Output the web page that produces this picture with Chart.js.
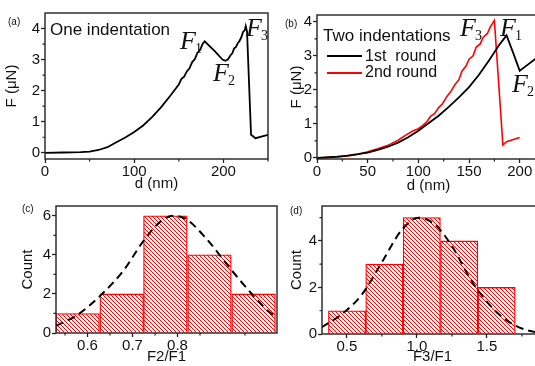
<!DOCTYPE html>
<html>
<head>
<meta charset="utf-8">
<script src="https://cdn.jsdelivr.net/npm/chart.js@4.4.1/dist/chart.umd.min.js"></script>
<style>
html, body { margin: 0; padding: 0; background: #fff; }
body { width: 535px; height: 366px; overflow: hidden; position: relative; font-family: "Liberation Sans", Arial, sans-serif; color: #111; }
canvas { position: absolute; }
.tag { position: absolute; font-size: 10px; line-height: 1; }
.txt { position: absolute; line-height: 1; white-space: nowrap; }
.fl { position: absolute; font-family: "Liberation Serif", "Times New Roman", serif; font-style: italic; font-size: 26px; line-height: 1; white-space: nowrap; }
.fl sub { font-size: 14px; font-style: normal; vertical-align: baseline; position: relative; top: 4px; margin-left: -1px; }
.swatch { position: absolute; height: 2px; width: 35px; }
</style>
</head>
<body>
<canvas id="pa" width="272" height="196" style="left:0;top:0"></canvas>
<canvas id="pb" width="272" height="196" style="left:272px;top:0"></canvas>
<canvas id="pc" width="280" height="170" style="left:0;top:196px"></canvas>
<canvas id="pd" width="266" height="170" style="left:280px;top:196px"></canvas>

<div class="tag" style="left:8px;top:17px">(a)</div>
<div class="tag" style="left:285px;top:19px">(b)</div>
<div class="tag" style="left:22px;top:204px">(c)</div>
<div class="tag" style="left:290px;top:206px">(d)</div>

<div class="txt" style="left:50px;top:21px;font-size:17px">One indentation</div>
<div class="fl" style="left:180px;top:28px">F<sub>1</sub></div>
<div class="fl" style="left:213px;top:60px">F<sub>2</sub></div>
<div class="fl" style="left:246px;top:15px">F<sub>3</sub></div>

<div class="txt" style="left:323px;top:27px;font-size:17px">Two indentations</div>
<div class="swatch" style="left:327px;top:55px;background:#000"></div>
<div class="txt" style="left:365px;top:48px;font-size:16px">1st&nbsp; round</div>
<div class="swatch" style="left:327px;top:72px;background:#ff0000"></div>
<div class="txt" style="left:365px;top:64px;font-size:16px">2nd round</div>
<div class="fl" style="left:460px;top:15px">F<sub>3</sub></div>
<div class="fl" style="left:500px;top:15px">F<sub>1</sub></div>
<div class="fl" style="left:512px;top:71px">F<sub>2</sub></div>

<script>
// ===== Data =====
// (a) one indentation: depth (nm) vs force (uN)
const aDepth = [0, 20, 40, 50, 60, 70, 80, 90, 100, 110, 120, 130, 140, 150, 153, 156, 159, 162, 165, 168, 171, 174, 177, 179,
  190, 199, 202, 205, 208, 210, 212, 214, 216, 218, 220, 222, 224, 225, 226.5, 231, 236, 250];
const aForce = [0, 0.01, 0.02, 0.04, 0.09, 0.18, 0.34, 0.49, 0.67, 0.88, 1.15, 1.46, 1.82, 2.2, 2.38, 2.45, 2.62, 2.72, 2.92, 3.02, 3.22, 3.32, 3.52, 3.59,
  3.28, 3.0, 2.96, 3.0, 3.14, 3.2, 3.36, 3.4, 3.52, 3.6, 3.71, 3.89, 3.95, 4.08, 3.9, 0.58, 0.47, 0.58];

// (b) two indentations
const b1Depth = [0, 20, 30, 40, 50, 60, 70, 80, 90, 100, 110, 120, 130, 140, 150, 160, 170, 180, 187, 194, 200, 207, 214, 220];
const b1Force = [0, 0.04, 0.07, 0.11, 0.16, 0.24, 0.33, 0.45, 0.61, 0.8, 1.02, 1.24, 1.5, 1.78, 2.08, 2.45, 2.88, 3.33, 3.6, 3.05, 2.56, 2.72, 2.88, 3.02];
const b2Depth = [0, 20, 30, 40, 50, 60, 70, 80, 88, 95, 100, 104, 108, 112, 116, 120, 124, 128, 132, 136, 140, 143, 147, 150,
  154, 157, 161, 164, 168, 171, 175, 183.4, 187, 200];
const b2Force = [0, 0.03, 0.06, 0.1, 0.18, 0.27, 0.37, 0.52, 0.68, 0.8, 0.86, 0.95, 1.05, 1.22, 1.3, 1.48, 1.6, 1.8, 1.95, 2.15, 2.3, 2.55, 2.7, 2.9,
  3.0, 3.25, 3.35, 3.55, 3.65, 3.85, 4.04, 0.38, 0.48, 0.6];

// (c) F2/F1 histogram + gaussian fit
const cBins = [0.578, 0.676, 0.773, 0.871, 0.969];
const cCounts = [1, 2, 6, 4, 2];
const cFitX = [0.53, 0.576, 0.628, 0.68, 0.724, 0.762, 0.791, 0.821, 0.865, 0.917, 0.969, 1.004, 1.03];
const cFitY = [0.37, 0.9, 1.9, 3.2, 4.7, 5.7, 6.0, 5.8, 4.8, 3.3, 1.9, 1.07, 0.7];

// (d) F3/F1 histogram + gaussian fit
const dBins = [0.502, 0.768, 1.035, 1.302, 1.569];
const dCounts = [1, 3, 5, 4, 2];
const dFitX = [0.321, 0.464, 0.607, 0.75, 0.893, 1.012, 1.131, 1.25, 1.393, 1.56, 1.703, 1.846, 1.9];
const dFitY = [0.29, 0.85, 1.69, 3.08, 4.48, 5.0, 4.69, 3.78, 2.25, 0.99, 0.36, 0.08, 0.05];

// tick labels (major) and minor tick marks
const aXTicks = [0, 100, 200], aXMinor = [50, 150, 250];
const aYTicks = [0, 1, 2, 3, 4], aYMinor = [0.5, 1.5, 2.5, 3.5];
const bXTicks = [0, 50, 100, 150, 200], bXMinor = [25, 75, 125, 175];
const bYTicks = [0, 1, 2, 3, 4], bYMinor = [0.5, 1.5, 2.5, 3.5];
const cXTicks = [0.6, 0.7, 0.8], cXMinor = [0.55, 0.65, 0.75, 0.85, 0.95];
const cYTicks = [0, 2, 4, 6], cYMinor = [1, 3, 5];
const dXTicks = [0.5, 1.0, 1.5], dXMinor = [0.75, 1.25, 1.75];
const dYTicks = [0, 2, 4], dYMinor = [1, 3, 5];

// ===== Chart setup =====
Chart.defaults.font.family = '"Liberation Sans", Arial, sans-serif';
Chart.defaults.font.size = 15;
Chart.defaults.color = '#111';
Chart.defaults.animation = false;
Chart.defaults.events = [];
Chart.defaults.plugins.legend.display = false;
Chart.defaults.plugins.tooltip.enabled = false;

// box around the plot + short minor ticks
const frame = {
  id: 'frame',
  afterDraw(chart, args, opts) {
    const { ctx, chartArea: a, scales: { x, y } } = chart;
    ctx.save();
    ctx.strokeStyle = '#222';
    ctx.lineWidth = 1.4;
    ctx.strokeRect(a.left, a.top, a.right - a.left, a.bottom - a.top);
    ctx.lineWidth = 1.2;
    ctx.beginPath();
    (opts.xMinor || []).forEach(v => {
      const px = x.getPixelForValue(v);
      ctx.moveTo(px, a.bottom); ctx.lineTo(px, a.bottom + 2.5);
    });
    (opts.yMinor || []).forEach(v => {
      const py = y.getPixelForValue(v);
      ctx.moveTo(a.left, py); ctx.lineTo(a.left - 2.5, py);
    });
    ctx.stroke();
    ctx.restore();
  }
};
Chart.register(frame);

function axis(o) {
  return {
    type: 'linear',
    min: o.min,
    max: o.max,
    offset: false,
    grid: { drawOnChartArea: false, drawTicks: true, tickLength: 4, tickColor: '#222', tickWidth: 1.3, offset: false },
    border: { display: false },
    ticks: { padding: o.pad, autoSkip: false, maxRotation: 0, font: { size: o.size || 15 }, callback: o.fmt },
    afterBuildTicks: s => { s.ticks = o.major.map(v => ({ value: v })); },
    afterFit: s => {
      if (o.w != null) s.width = o.w;
      if (o.h != null) s.height = o.h;
    },
    title: { display: true, text: o.title, font: { size: 15 }, padding: o.tpad }
  };
}

const intFmt = v => String(v);
const decFmt = v => v.toFixed(1);

function hatch(color) {
  const c = document.createElement('canvas');
  c.width = 4; c.height = 4;
  const g = c.getContext('2d');
  g.fillStyle = '#fff';
  g.fillRect(0, 0, 4, 4);
  g.strokeStyle = color;
  g.lineWidth = 1;
  g.beginPath();
  g.moveTo(0, 0); g.lineTo(4, 4);
  g.moveTo(-1, 3); g.lineTo(1, 5);
  g.moveTo(3, -1); g.lineTo(5, 1);
  g.stroke();
  return g.createPattern(c, 'repeat');
}

const pts = (xs, ys) => xs.map((x, i) => ({ x, y: ys[i] }));

// ===== (a) =====
new Chart(document.getElementById('pa'), {
  type: 'line',
  data: { datasets: [{ data: pts(aDepth, aForce), borderColor: '#000', borderWidth: 1.8, pointRadius: 0, tension: 0 }] },
  options: {
    responsive: false,
    layout: { padding: { top: 13, right: 4, bottom: 0, left: 0 } },
    scales: {
      x: axis({ min: 0, max: 250, major: aXTicks, fmt: intFmt, pad: 0, h: 37, title: 'd (nm)', tpad: { top: 0, bottom: 3 } }),
      y: axis({ min: -0.2, max: 4.5, major: aYTicks, fmt: intFmt, pad: 1, w: 45, title: 'F (\u03bcN)', tpad: { top: 3, bottom: 0 } })
    },
    plugins: { frame: { xMinor: aXMinor, yMinor: aYMinor } }
  }
});

// ===== (b) =====
new Chart(document.getElementById('pb'), {
  type: 'line',
  data: { datasets: [
    { data: pts(b1Depth, b1Force), borderColor: '#000', borderWidth: 1.8, pointRadius: 0, tension: 0 },
    { data: pts(b2Depth, b2Force), borderColor: '#ff0000', borderWidth: 1.6, pointRadius: 0, tension: 0 }
  ] },
  options: {
    responsive: false,
    layout: { padding: { top: 15, right: 4, bottom: 0, left: 0 } },
    scales: {
      x: axis({ min: 0, max: 220, major: bXTicks, fmt: intFmt, pad: 0, h: 37, title: 'd (nm)', tpad: { top: 0, bottom: 1 } }),
      y: axis({ min: -0.03, max: 4.2, major: bYTicks, fmt: intFmt, pad: 1, w: 45, title: 'F (\u03bcN)', tpad: { top: 16, bottom: 0 } })
    },
    plugins: { frame: { xMinor: bXMinor, yMinor: bYMinor } }
  }
});

// ===== (c) =====
new Chart(document.getElementById('pc'), {
  type: 'bar',
  data: { datasets: [
    { type: 'line', data: pts(cFitX, cFitY), borderColor: '#000', borderWidth: 2, borderDash: [8, 5], pointRadius: 0, cubicInterpolationMode: 'monotone', order: 1 },
    { type: 'bar', data: pts(cBins, cCounts), backgroundColor: hatch('#ff0000'), borderColor: '#ff0000', borderWidth: 1.3, barPercentage: 1, categoryPercentage: 1, order: 2 }
  ] },
  options: {
    responsive: false,
    layout: { padding: { top: 7, right: 3, bottom: 0, left: 0 } },
    scales: {
      x: axis({ min: 0.53, max: 1.021, major: cXTicks, fmt: decFmt, pad: 0, h: 33, title: 'F2/F1', tpad: { top: 0, bottom: 0 } }),
      y: axis({ min: 0, max: 6.5, major: cYTicks, fmt: intFmt, pad: 1, w: 56, title: 'Count', tpad: { top: 19, bottom: 0 } })
    },
    plugins: { frame: { xMinor: cXMinor, yMinor: cYMinor } }
  }
});

// ===== (d) =====
new Chart(document.getElementById('pd'), {
  type: 'bar',
  data: { datasets: [
    { type: 'line', data: pts(dFitX, dFitY), borderColor: '#000', borderWidth: 2, borderDash: [8, 5], pointRadius: 0, cubicInterpolationMode: 'monotone', order: 1 },
    { type: 'bar', data: pts(dBins, dCounts), backgroundColor: hatch('#ff0000'), borderColor: '#ff0000', borderWidth: 1.3, barPercentage: 1, categoryPercentage: 1, order: 2 }
  ] },
  options: {
    responsive: false,
    layout: { padding: { top: 6.5, right: 3, bottom: 0, left: 0 } },
    scales: {
      x: axis({ min: 0.323, max: 1.9, major: dXTicks, fmt: decFmt, pad: 0, h: 32, title: 'F3/F1', tpad: { top: 0, bottom: 0 } }),
      y: axis({ min: 0, max: 5.5, major: dYTicks, fmt: intFmt, pad: 1, w: 42, title: 'Count', tpad: { top: 8, bottom: 0 } })
    },
    plugins: { frame: { xMinor: dXMinor, yMinor: dYMinor } }
  }
});
</script>
</body>
</html>
